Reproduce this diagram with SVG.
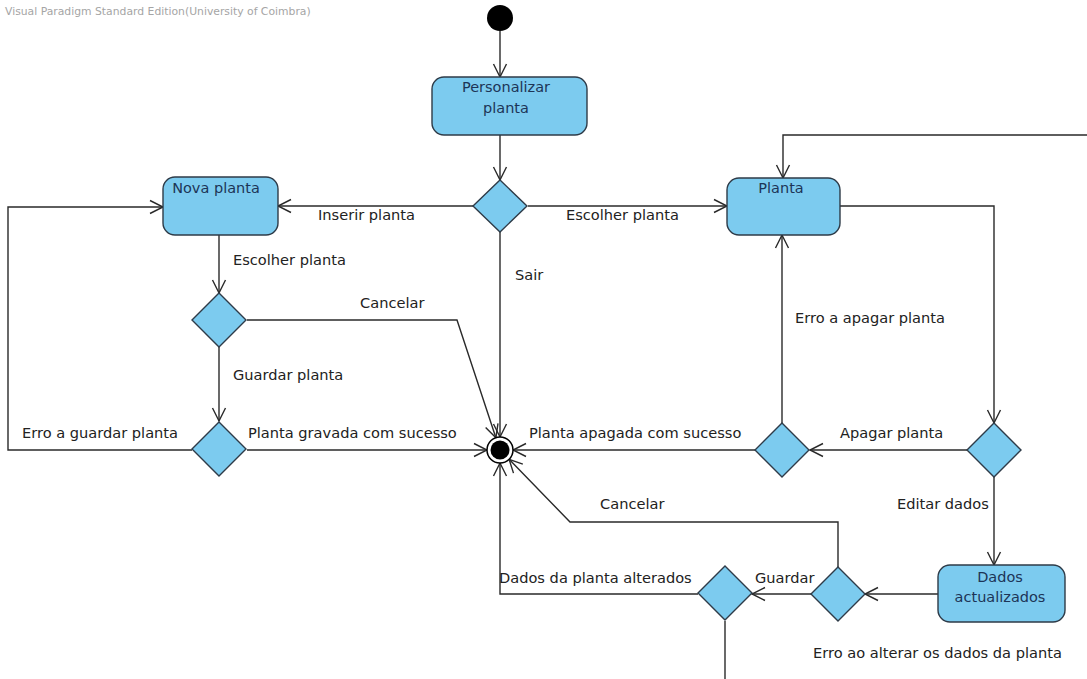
<svg xmlns="http://www.w3.org/2000/svg" width="1087" height="679" viewBox="0 0 1087 679">
  <style>
    .act { fill: #7ccbef; stroke: #2e3b48; stroke-width: 1.4; }
    .dec { fill: #7ccbef; stroke: #2e3b48; stroke-width: 1.4; }
    .ntext { font-family: "DejaVu Sans", "Liberation Sans", sans-serif; font-size: 14.5px; fill: #1d3557; text-anchor: middle; }
    .label { font-family: "DejaVu Sans", "Liberation Sans", sans-serif; font-size: 14.6px; fill: #222; }
    .flow { fill: none; stroke: #2a2a2a; stroke-width: 1.4; marker-end: url(#arrow); }
    .header { font-family: "DejaVu Sans", "Liberation Sans", sans-serif; font-size: 10.8px; fill: #a5a5a5; }
  </style>
  <defs>
    <marker id="arrow" markerUnits="userSpaceOnUse" markerWidth="16" markerHeight="16" viewBox="-14 -8 16 16" refX="0" refY="0" orient="auto">
      <path d="M -13 -6.5 L 0 0 L -13 6.5" fill="none" stroke="#2a2a2a" stroke-width="1.4"/>
    </marker>
  </defs>

  <rect width="1087" height="679" fill="#ffffff"/>
  <text class="header" x="5" y="15">Visual Paradigm Standard Edition(University of Coimbra)</text>

  <!-- transitions -->
  <g id="connectors">
    <path class="flow" d="M 500 31 L 500 77"/>
    <path class="flow" d="M 500 135 L 500 180"/>
    <path class="flow" d="M 473 206 L 278 206"/>
    <path class="flow" d="M 528 206 L 727 206"/>
    <path class="flow" d="M 500 232 L 500 437"/>
    <path class="flow" d="M 1087 135 L 783 135 L 783 178"/>
    <path class="flow" d="M 840 206 L 994 206 L 994 423"/>
    <path class="flow" d="M 219 235 L 219 293"/>
    <path class="flow" d="M 219 347 L 219 421"/>
    <path class="flow" d="M 247 320 L 457 320 L 495.9 437.7"/>
    <path class="flow" d="M 192 450 L 8 450 L 8 207 L 163 207"/>
    <path class="flow" d="M 247 450 L 487 450"/>
    <path class="flow" d="M 755 450 L 513 450"/>
    <path class="flow" d="M 782 423 L 782 235"/>
    <path class="flow" d="M 967 450 L 810 450"/>
    <path class="flow" d="M 994 477 L 994 565"/>
    <path class="flow" d="M 938 594 L 865 594"/>
    <path class="flow" d="M 812 594 L 752 594"/>
    <path class="flow" d="M 838 567 L 838 522 L 570 522 L 509.1 459.3"/>
    <path class="flow" d="M 698 594 L 500 594 L 500 463"/>
    <path fill="none" stroke="#2a2a2a" stroke-width="1.4" d="M 725 621 L 725 679"/>

    <text class="label" x="318" y="220">Inserir planta</text>
    <text class="label" x="566" y="220">Escolher planta</text>
    <text class="label" x="233" y="265">Escolher planta</text>
    <text class="label" x="515" y="280">Sair</text>
    <text class="label" x="360" y="308">Cancelar</text>
    <text class="label" x="233" y="380">Guardar planta</text>
    <text class="label" x="22" y="438">Erro a guardar planta</text>
    <text class="label" x="248" y="438">Planta gravada com sucesso</text>
    <text class="label" x="529" y="438">Planta apagada com sucesso</text>
    <text class="label" x="795" y="323">Erro a apagar planta</text>
    <text class="label" x="840" y="438">Apagar planta</text>
    <text class="label" x="897" y="509">Editar dados</text>
    <text class="label" x="600" y="509">Cancelar</text>
    <text class="label" x="499" y="583">Dados da planta alterados</text>
    <text class="label" x="755" y="583">Guardar</text>
    <text class="label" x="813" y="658">Erro ao alterar os dados da planta</text>
  </g>

  <!-- initial node -->
  <g id="start">
    <circle cx="500" cy="18" r="13" fill="#000"/>
  </g>

  <!-- final node -->
  <g id="end">
    <circle cx="500" cy="450" r="13" fill="#fff" stroke="#000" stroke-width="1.5"/>
    <circle cx="500" cy="450" r="9.5" fill="#000"/>
  </g>

  <!-- activities -->
  <g id="personalizar-planta">
    <rect class="act" x="432" y="77" width="155" height="58" rx="12"/>
    <text class="ntext" x="506" y="92">Personalizar</text>
    <text class="ntext" x="506" y="113">planta</text>
  </g>
  <g id="nova-planta">
    <rect class="act" x="163" y="177" width="115" height="58" rx="12"/>
    <text class="ntext" x="216" y="193">Nova planta</text>
  </g>
  <g id="planta">
    <rect class="act" x="727" y="178" width="113" height="57" rx="12"/>
    <text class="ntext" x="781" y="193">Planta</text>
  </g>
  <g id="dados-actualizados">
    <rect class="act" x="938" y="565" width="127" height="57" rx="12"/>
    <text class="ntext" x="1000" y="582">Dados</text>
    <text class="ntext" x="1000" y="602">actualizados</text>
  </g>

  <!-- decisions -->
  <g id="decision-main"><path class="dec" d="M 500 180 L 527 206 L 500 232 L 473 206 Z"/></g>
  <g id="decision-escolher"><path class="dec" d="M 219 293 L 246 320 L 219 347 L 192 320 Z"/></g>
  <g id="decision-guardar"><path class="dec" d="M 219 422 L 246 449 L 219 476 L 192 449 Z"/></g>
  <g id="decision-apagar"><path class="dec" d="M 782 423 L 809 450 L 782 477 L 755 450 Z"/></g>
  <g id="decision-planta"><path class="dec" d="M 994 423 L 1021 450 L 994 477 L 967 450 Z"/></g>
  <g id="decision-editar"><path class="dec" d="M 838 567 L 865 594 L 838 621 L 811 594 Z"/></g>
  <g id="decision-alterar"><path class="dec" d="M 725 566 L 752 593 L 725 620 L 698 593 Z"/></g>
</svg>
